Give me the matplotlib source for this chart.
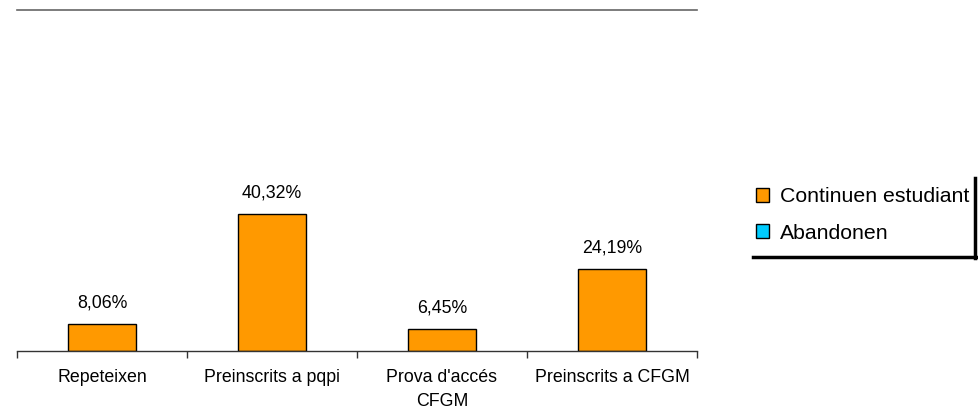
import matplotlib
matplotlib.use("Agg")
import matplotlib.pyplot as plt
from matplotlib.patches import Patch
from matplotlib.lines import Line2D
import numpy as np

plt.rcParams['font.family'] = ['Liberation Sans', 'DejaVu Sans']

categories = ["Repeteixen", "Preinscrits a pqpi", "Prova d'accés\nCFGM", "Preinscrits a CFGM"]
continuen = [8.06, 40.32, 6.45, 24.19]
labels = ["8,06%", "40,32%", "6,45%", "24,19%"]
series_names = ["Continuen estudiant", "Abandonen"]
colors = ["#FF9900", "#00CCFF"]

W, H = 979, 412
fig = plt.figure(figsize=(W / 100, H / 100), dpi=100)
ax = fig.add_axes([17 / W, (H - 351) / H, (697 - 17) / W, (351 - 10) / H])

x = np.arange(len(categories))
bars = ax.bar(x, continuen, width=0.4, color=colors[0], edgecolor="black", linewidth=1.0)
for xi, v, lab in zip(x, continuen, labels):
    ax.annotate(lab, (xi, v), xytext=(0, 9), textcoords="offset points",
                ha="center", va="bottom", fontsize=12.8)

ax.set_xlim(-0.5, len(categories) - 0.5)
ax.set_ylim(0, 100)
ax.set_yticks([])
ax.set_xticks(np.arange(len(categories) + 1) - 0.5)
ax.set_xticklabels([])
ax.tick_params(axis="x", direction="out", length=5, width=1, color="#333333")
ax.set_xticks(x, minor=True)
ax.set_xticklabels(categories, minor=True, fontsize=12.8, linespacing=1.55)
ax.tick_params(axis="x", which="minor", length=0, pad=13)

for s in ["left", "right"]:
    ax.spines[s].set_visible(False)
ax.spines["top"].set_color("#666666")
ax.spines["top"].set_linewidth(1.2)
ax.spines["bottom"].set_color("#333333")
ax.spines["bottom"].set_linewidth(1.0)

handles = [Patch(facecolor=c, edgecolor="black", linewidth=1.0) for c in colors]
leg = fig.legend(handles, series_names, loc="center left",
                 bbox_to_anchor=(748 / W, (H - 215) / H), frameon=False,
                 fontsize=15.3, handlelength=0.6, handleheight=0.6,
                 handletextpad=0.5, labelspacing=0.82, borderaxespad=0)

# legend shadow lines (right and bottom)
fig.add_artist(Line2D([975.5 / W, 975.5 / W], [(H - 178) / H, (H - 258) / H],
                      transform=fig.transFigure, color="black", linewidth=2.5))
fig.add_artist(Line2D([753 / W, 977 / W], [(H - 257) / H, (H - 257) / H],
                      transform=fig.transFigure, color="black", linewidth=2.5))

fig.savefig("out.png", dpi=100)
